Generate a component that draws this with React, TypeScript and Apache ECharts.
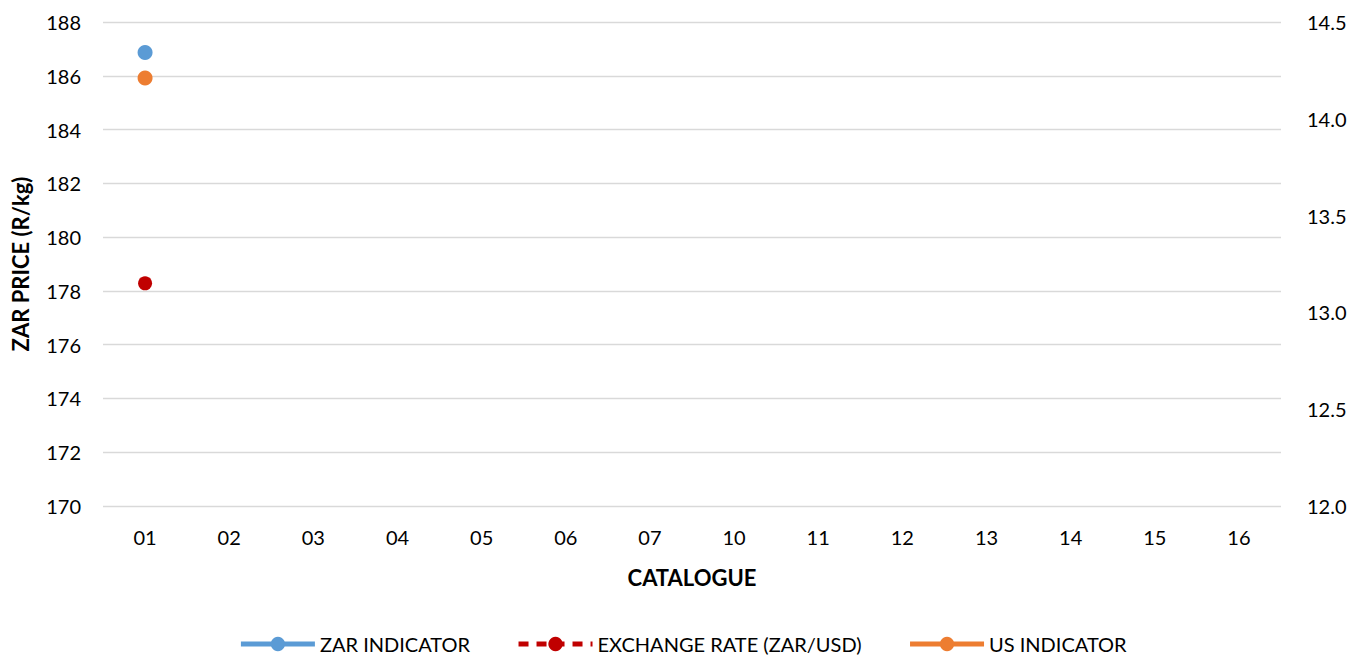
import React, { useEffect, useRef } from "react";
import * as echarts from "echarts";

const categories = ["01", "02", "03", "04", "05", "06", "07", "10", "11", "12", "13", "14", "15", "16"];
const zarIndicator = [186.87, null, null, null, null, null, null, null, null, null, null, null, null, null];
const exchangeRate = [13.15, null, null, null, null, null, null, null, null, null, null, null, null, null];
const usIndicator = [185.92, null, null, null, null, null, null, null, null, null, null, null, null, null];

const FONT = "Lato, 'Open Sans', sans-serif";

export default function App() {
  const ref = useRef<HTMLDivElement>(null);
  useEffect(() => {
    document.body.style.margin = "0";
    const chart = echarts.init(ref.current!, null, { renderer: "svg" });
    chart.setOption({
      animation: false,
      textStyle: { fontFamily: FONT },
      grid: { left: 103, right: 84, top: 22, bottom: 153 },
      legend: {
        bottom: 0,
        left: "center",
        itemWidth: 74,
        itemHeight: 18,
        itemGap: 46,
        lineStyle: { width: 5 },
        textStyle: { fontSize: 20, color: "#000", fontFamily: FONT },
        data: ["ZAR INDICATOR", "EXCHANGE RATE (ZAR/USD)", "US INDICATOR"],
      },
      xAxis: {
        type: "category",
        data: categories,
        name: "CATALOGUE",
        nameLocation: "middle",
        nameGap: 60,
        nameTextStyle: { fontSize: 22, fontWeight: "bold", color: "#000", fontFamily: FONT },
        axisLine: { show: false },
        axisTick: { show: false },
        axisLabel: { fontSize: 20, color: "#000", margin: 21 },
      },
      yAxis: [
        {
          type: "value",
          min: 170,
          max: 188,
          interval: 2,
          name: "ZAR PRICE (R/kg)",
          nameLocation: "middle",
          nameGap: 72,
          nameTextStyle: { fontSize: 22, fontWeight: "bold", color: "#000", fontFamily: FONT },
          axisLine: { show: false },
          axisTick: { show: false },
          axisLabel: { fontSize: 20, color: "#000", margin: 22 },
          splitLine: { lineStyle: { color: "#d9d9d9", width: 1.3 } },
        },
        {
          type: "value",
          min: 12,
          max: 14.5,
          interval: 0.5,
          axisLine: { show: false },
          axisTick: { show: false },
          axisLabel: { fontSize: 20, color: "#000", margin: 26, formatter: (v: number) => v.toFixed(1) },
          splitLine: { show: false },
        },
      ],
      series: [
        {
          name: "ZAR INDICATOR",
          type: "line",
          data: zarIndicator,
          symbol: "circle",
          symbolSize: 15,
          itemStyle: { color: "#5b9bd5" },
          lineStyle: { color: "#5b9bd5", width: 4 },
        },
        {
          name: "EXCHANGE RATE (ZAR/USD)",
          type: "line",
          yAxisIndex: 1,
          data: exchangeRate,
          symbol: "circle",
          symbolSize: 14,
          itemStyle: { color: "#c00000" },
          lineStyle: { color: "#c00000", width: 4, type: [10, 8] },
        },
        {
          name: "US INDICATOR",
          type: "line",
          data: usIndicator,
          symbol: "circle",
          symbolSize: 15,
          itemStyle: { color: "#ed7d31" },
          lineStyle: { color: "#ed7d31", width: 4 },
        },
      ],
    });
    return () => chart.dispose();
  }, []);
  return <div ref={ref} style={{ width: 1365, height: 659 }} />;
}
